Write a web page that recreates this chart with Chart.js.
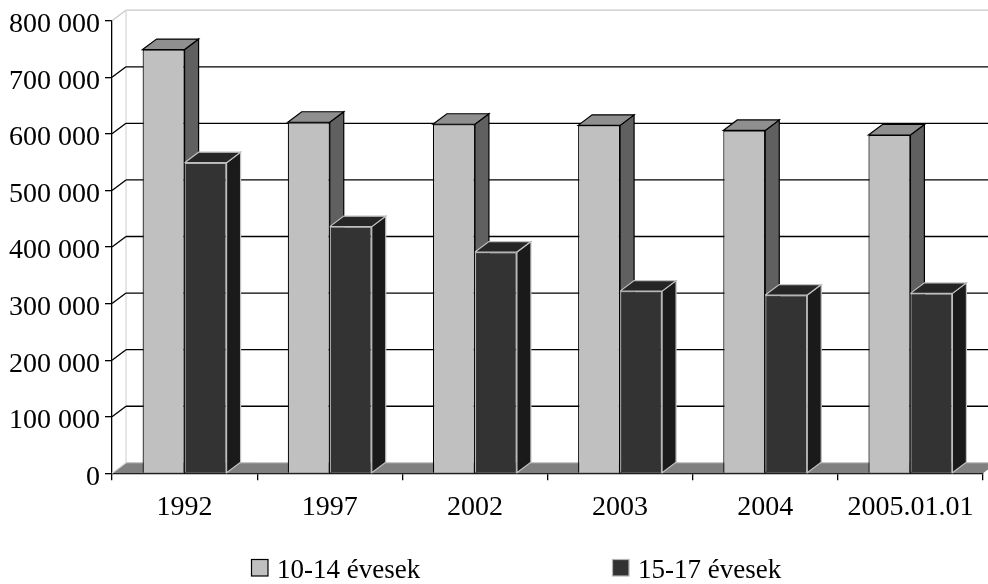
<!DOCTYPE html>
<html>
<head>
<meta charset="utf-8">
<script src="https://cdn.jsdelivr.net/npm/chart.js@4"></script>
<style>html,body{margin:0;padding:0;background:#fff}canvas{display:block}</style>
</head>
<body>
<canvas id="c" width="988" height="584"></canvas>
<script>
const categories = ['1992','1997','2002','2003','2004','2005.01.01'];
const series1Name = '10-14 évesek';
const series2Name = '15-17 évesek';
const series1 = [749000, 620500, 617000, 615000, 606000, 598000];
const series2 = [549000, 436000, 391000, 322000, 315000, 318000];

const DX = 14, DY = -10.5;
const LEGEND_FONT = '27px "Liberation Serif"';
const looks = [
  {face:'#c0c0c0', edge:'#000000', top:'#8f8f8f', side:'#606060', depthEdge:'#000000'},
  {face:'#333333', edge:'#b4b4b4', top:'#262626', side:'#1a1a1a', depthEdge:'#c0c0c0'}
];

function poly(ctx, pts, fill, stroke, lw){
  ctx.beginPath();
  pts.forEach((p,i)=> i?ctx.lineTo(p[0],p[1]):ctx.moveTo(p[0],p[1]));
  ctx.closePath();
  if(fill){ctx.fillStyle=fill;ctx.fill();}
  if(stroke){ctx.strokeStyle=stroke;ctx.lineWidth=lw||1;ctx.stroke();}
}
function seg(ctx,x1,y1,x2,y2,color,lw){
  ctx.beginPath();ctx.moveTo(x1,y1);ctx.lineTo(x2,y2);
  ctx.strokeStyle=color;ctx.lineWidth=lw;ctx.stroke();
}

const depthPlugin = {
  id:'depth',
  beforeDatasetsDraw(chart){
    const ctx = chart.ctx, a = chart.chartArea, y = chart.scales.y;
    ctx.save();
    const L=a.left, R=a.right, B=a.bottom;
    const ticks = y.ticks;
    const yTop = y.getPixelForValue(y.max);
    seg(ctx,L+DX,yTop+DY,988,yTop+DY,'#c8c8c8',1.2);
    seg(ctx,L+DX,yTop+DY,L+DX,B+DY,'#e0e0e0',1.6);
    seg(ctx,L,yTop,L+DX,yTop+DY,'#c8c8c8',1.2);
    poly(ctx,[[L,B],[L+DX,B+DY],[R+DX,B+DY],[R,B]],'#808080');
    seg(ctx,L+DX,B+DY,R+DX,B+DY,'#bdbdbd',1);
    seg(ctx,L,B,L+DX,B+DY,'#d8d8d8',1.2);
    ticks.forEach(t=>{
      if(t.value===y.min||t.value===y.max) return;
      const p=y.getPixelForValue(t.value);
      seg(ctx,L,p,L+DX,p+DY,'#000',1.3);
      seg(ctx,L+DX,p+DY,988,p+DY,'#000',1.3);
    });
    [0,1].forEach(i=>{
      const lk=looks[i];
      chart.getDatasetMeta(i).data.forEach(b=>{
        const l=b.x-b.width/2, r=b.x+b.width/2, t=b.y, bt=b.base;
        poly(ctx,[[r,bt],[r+DX,bt+DY],[r+DX,t+DY],[r,t]],lk.side,lk.depthEdge,1.2);
        poly(ctx,[[l,t],[l+DX,t+DY],[r+DX,t+DY],[r,t]],lk.top,lk.depthEdge,1.2);
      });
    });
    ctx.restore();
  },
  afterDraw(chart){
    const ctx=chart.ctx;
    ctx.save();
    const xs=[251,612];
    chart.data.datasets.forEach((d,i)=>{
      ctx.fillStyle=looks[i].face;
      ctx.strokeStyle=i===0?'#000':'#b4b4b4';
      ctx.lineWidth=1.2;
      ctx.fillRect(xs[i]+.5,559.5,16.5,16.5);
      ctx.strokeRect(xs[i]+.5,559.5,16.5,16.5);
      ctx.fillStyle='#000';
      ctx.font=LEGEND_FONT;
      ctx.textBaseline='alphabetic';
      ctx.textAlign='left';
      ctx.fillText(d.label,xs[i]+26,578);
    });
    ctx.restore();
  }
};

new Chart(document.getElementById('c'),{
  type:'bar',
  data:{
    labels:categories,
    datasets:[
      {label:series1Name,data:series1,backgroundColor:looks[0].face,borderColor:looks[0].edge,borderWidth:1.2},
      {label:series2Name,data:series2,backgroundColor:looks[1].face,borderColor:looks[1].edge,borderWidth:1.2}
    ]
  },
  options:{
    responsive:false,
    animation:false,
    devicePixelRatio:1,
    categoryPercentage:0.5786,
    barPercentage:1,
    layout:{padding:{top:20.7,right:5,left:0,bottom:0}},
    plugins:{legend:{display:false},tooltip:{enabled:false}},
    scales:{
      x:{
        z:1,
        afterFit(s){s.height=110.7;s.paddingLeft=0;s.paddingRight=0;},
        grid:{drawOnChartArea:false,tickLength:7,color:'#000',lineWidth:1.3},
        border:{display:true,color:'#000',width:1.3},
        ticks:{color:'#000',font:{family:'"Liberation Serif"',size:28},padding:11,maxRotation:0,autoSkip:false}
      },
      y:{
        z:1,
        min:0,max:800000,
        afterFit(s){s.width=112;s.paddingTop=0;s.paddingBottom=0;},
        grid:{drawOnChartArea:false,tickLength:7,color:'#000',lineWidth:1.3},
        border:{display:true,color:'#000',width:1.3},
        ticks:{color:'#000',stepSize:100000,labelOffset:4,padding:5,
          font:{family:'"Liberation Serif"',size:28},
          callback:v=>String(v).replace(/\B(?=(\d{3})+$)/g,' ')}
      }
    }
  },
  plugins:[depthPlugin]
});
</script>
</body>
</html>
